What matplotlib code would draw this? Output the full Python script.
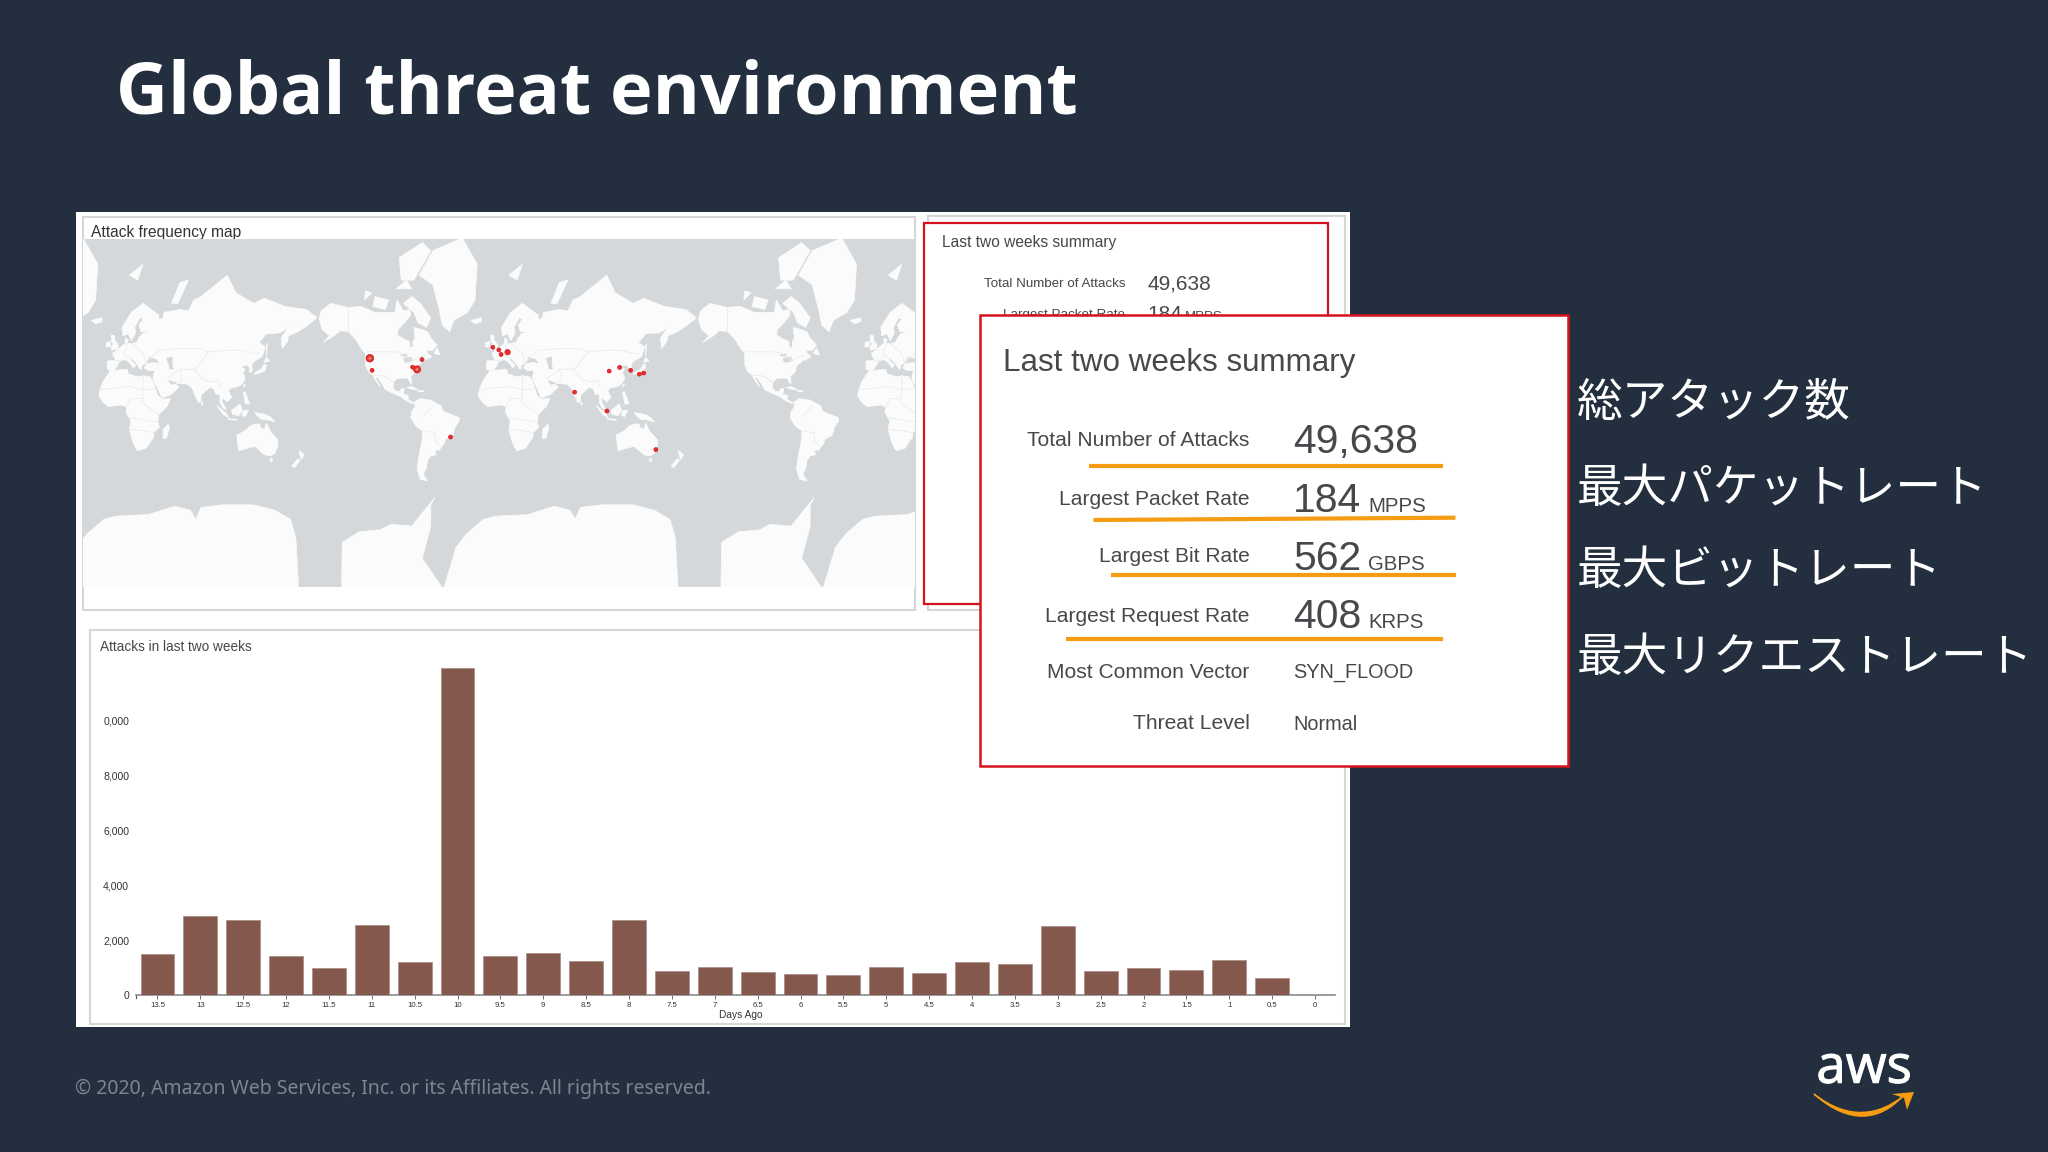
import numpy as np
import matplotlib
matplotlib.use("Agg")
import matplotlib.pyplot as plt
import matplotlib.patheffects as pe
from matplotlib.patches import Rectangle, PathPatch
from matplotlib.path import Path

W, H = 2048, 1152
BG = "#232f3e"
OCEAN = "#d5d8da"
LAND = "#fbfbfb"
BORDER = "#ebebeb"
BAR = "#85584e"
RED = "#d5131f"
ORANGE = "#f59c12"
TXT = "#47474c"
GRID = "#d6d6d6"
SANS = "Liberation Sans"
JP = "Noto Sans CJK JP"

# attacks per half day
days_ago = [13.5, 13, 12.5, 12, 11.5, 11, 10.5, 10, 9.5, 9, 8.5, 8, 7.5, 7,
            6.5, 6, 5.5, 5, 4.5, 4, 3.5, 3, 2.5, 2, 1.5, 1, 0.5, 0]
attacks = [1484, 2895, 2725, 1411, 973, 2543, 1217, 11946, 1411, 1520, 1241, 2749, 876, 1022,
           852, 766, 718, 1034, 791, 1204, 1119, 2506, 876, 973, 900, 1290, 608, 0]
y_ticks = [0, 2000, 4000, 6000, 8000, 10000]
y_labels = ["0", "2,000", "4,000", "6,000", "8,000", "0,000"]

# attack locations on the map
site_lon = [-119.8, -117.7, -75, -79.2, -70.3, -3.1, 2.6, 4.7, 10.9, 74.5, 105.2, 107.3, 117.2, 127.6, 140.1, 135.9, -43.2, 151.6]
site_lat = [44.9, 36.2, 36.9, 38.6, 44.0, 51.8, 50.2, 47.4, 48.8, 17.9, 0.3, 35.6, 38.4, 36.2, 34.1, 33.2, -23.7, -34.1]
site_size = [30, 8, 26, 8, 8, 8, 8, 8, 15, 8, 8, 8, 8, 8, 8, 8, 8, 8]

# summary card rows
summary_labels = ["Total Number of Attacks", "Largest Packet Rate", "Largest Bit Rate",
                  "Largest Request Rate", "Most Common Vector", "Threat Level"]
summary_values = ["49,638", "184", "562", "408", "SYN_FLOOD", "Normal"]
summary_units = ["", "MPPS", "GBPS", "KRPS", "", ""]
jp_labels = ["総アタック数", "最大パケットレート", "最大ビットレート", "最大リクエストレート"]

# coarse coastlines, lon/lat
north_america = [(-168,65.5),(-166,68.5),(-157,71),(-141,69.7),(-128,70),(-115,68),(-108,68),(-96,68),(-94,72),(-88,68.5),(-82,69),(-81,67),(-87,64),(-93,61),(-94,58.5),(-88,56.5),(-82,55),(-82,52),(-79,51.5),(-79,55),(-77,57),(-78,62),(-70,61),(-65,60),(-62,57),(-56,53),(-60,50),(-66,50),(-65,48),(-61,46),(-66,44),(-70,43),(-71,41.5),(-74,40.5),(-76,37),(-76,35),(-81,31.5),(-80,27),(-80.5,25),(-82,27),(-84,30),(-89,30),(-94,29.5),(-97,27),(-98,22),(-95,18.5),(-91,18.5),(-90,21),(-87,21),(-88,16),(-83.5,15),(-83.5,11),(-80,9),(-77.5,8.5),(-80,7.5),(-85,10),(-91,14),(-96,16),(-105,20),(-108,25),(-113,31),(-114.5,30),(-110,23),(-112,25),(-115,29),(-117,32.5),(-121,35),(-124,40),(-124,48),(-128,51),(-133,56),(-140,60),(-148,60.5),(-154,58),(-164,54.5),(-158,58),(-165,61)]
south_america = [(-77.5,8.5),(-72,12),(-62,10.5),(-52,5),(-50,0),(-44,-2.5),(-35,-6),(-35,-9),(-39,-15),(-41,-22),(-48,-25.5),(-49,-29),(-54,-34.5),(-58,-34.5),(-57,-38),(-62,-39),(-65,-42),(-66,-47),(-69,-51),(-65,-55),(-72,-54),(-75,-48),(-73,-38),(-70,-25),(-70,-18),(-76,-14),(-81,-6),(-80,0),(-77,4)]
africa = [(-6,35.8),(10,37),(11,33.5),(20,31),(25,32),(32,31),(34,28),(37,21),(39,15),(43,11.5),(51,12),(48,5),(40,-3),(39,-10),(40.5,-15),(35,-20),(35,-24),(32.5,-27),(28,-33),(20,-35),(18,-33),(15,-27),(12,-17),(13.5,-9),(9,-1),(9.5,4),(5,6),(-4,5),(-8,4.5),(-13,8.5),(-17,14.5),(-16,20),(-13,27),(-10,31)]
eurasia = [(-9,37),(-9,43),(-1,43.5),(-4,48),(2,51),(8,54),(8,57),(11,56),(10,54),(14,54),(19,54.5),(21,57),(24,59),(30,60),(23,60),(21,63),(25,65.5),(22,66),(17,62),(18,59.5),(14,55.5),(11,59),(6,58),(5,62),(14,68),(25,71),(40,67),(40,65),(35,64),(44,66),(45,68),(60,69),(68,68.5),(73,72),(80,73),(105,78),(113,74),(130,71),(140,72.5),(160,70),(180,69),(190,66),(180,62.5),(172,60),(163,58),(162,55),(157,51),(156,57),(163,62),(155,59.5),(142,59),(135,54.5),(141,52),(138,46),(130,42.5),(128,39.5),(129,35.5),(126,34.5),(126,37.5),(125,39.7),(121,40),(118,38.5),(122,37),(120,34.5),(122,30),(119,25),(114,22.5),(108,21.5),(106,19),(109,13),(105,9),(100,13),(100,9),(104,1.5),(101,3),(98,8),(98,16),(94,16),(92,21),(88,22),(80,15),(80,10),(77.5,8),(73,18),(72,21),(67,25),(57,25.5),(56,27),(51,28),(48,30),(50,26),(52,24),(56,25),(59,22.5),(52,16),(43,12.5),(39,21),(35,28),(34.5,31),(36,36),(30,36),(26,38),(28,41),(35,42),(41,41),(37,45),(33,45),(31,46.5),(28,42),(24,40),(23,36.5),(19,41),(14,45),(12.5,44),(18,40),(16,38),(12,42),(8,44),(3,43),(0,39),(-2,36.7),(-5.5,36)]
australia = [(114,-22),(122,-18),(126,-14),(131,-12),(136,-12),(136,-15),(140,-17),(142,-11),(146,-19),(153,-26),(153,-31),(150,-37),(146,-39),(140,-38),(136,-35),(131,-31.5),(124,-33),(116,-35),(115,-31)]
antarctica = [(-147,-86),(-146,-77),(-130,-74.5),(-110,-74),(-100,-72.5),(-80,-73),(-68,-68),(-58,-63),(-62,-66),(-62,-73),(-70,-80),(-50,-84),(-38,-78),(-28,-75),(-12,-71),(0,-70),(30,-69.5),(55,-66.5),(70,-68),(75,-71),(80,-67),(100,-66),(130,-66),(150,-68),(165,-71),(170,-76),(174,-86)]
islands = [
    [(-73,78),(-60,82),(-32,83.5),(-18,80),(-20,72),(-27,68),(-40,65),(-44,60),(-51,63),(-54,69),(-60,76)],
    [(-80,73),(-72,71),(-62,66),(-66,62),(-74,64),(-78,68),(-88,71)],
    [(-90,77),(-78,77),(-62,82),(-70,83),(-92,81)],
    [(-117,70),(-105,69),(-102,72),(-115,73)],
    [(-125,72),(-118,74),(-124,74.5)],
    [(-95,75),(-80,75),(-85,77)],
    [(-59,48),(-53,47),(-56,51.5)],
    [(-24,65),(-14,66),(-14,64.5),(-20,63.5)],
    [(-85,22),(-80,23),(-74,20),(-78,20)],
    [(-74,19.5),(-69,19.5),(-69,18.3),(-74,18.2)],
    [(-5,50),(1,51),(1.5,53),(-2,56),(-2,58),(-5,58.5),(-5,55),(-3,54),(-5,52)],
    [(-10,52),(-6,52),(-6,55),(-10,54.5)],
    [(12,78),(25,80),(20,77)],
    [(52,71),(58,71),(68,77),(60,76.5)],
    [(130,33),(136,34),(141,36),(142,40),(140,41),(137,37),(132,35)],
    [(140,42),(145,43),(142,45.5)],
    [(142,46),(143,54),(142,53)],
    [(120,22),(122,25),(121,25)],
    [(120,18),(122,18),(124,13),(126,7),(122,7),(121,13)],
    [(95,5.5),(104,-2),(106,-6),(101,-3)],
    [(105,-7),(114,-7.5),(114,-8.5),(106,-7.7)],
    [(109,1),(117,7),(119,1),(116,-4),(110,-3)],
    [(120,1),(125,1),(122,-5),(119,-4)],
    [(131,-1),(141,-3),(147,-6),(150,-10),(143,-8),(138,-8),(133,-4)],
    [(145,-41),(148,-41),(147,-43.5)],
    [(173,-35),(178,-38),(175,-41.5),(174,-39)],
    [(172,-41),(174,-42),(169,-47),(166,-46)],
    [(49,-12),(50,-16),(47,-25),(44,-25),(44,-17)],
    [(80,9.5),(82,7),(80.5,6)],
]
lakes = [[(47,45),(53,46),(53,40),(54,37),(50,37),(49,41)],
         [(-92,47),(-85,48),(-84,46),(-88,46)],
         [(-88,45),(-80,46),(-79,43),(-83,42),(-87,42)]]
# a few faint country borders
borders = [
    [(-123,49),(-95,49),(-88,48),(-79,43),(-75,45),(-67,47)],
    [(-141,69.7),(-141,60)],
    [(-117,32.5),(-106,31.7),(-97,26)],
    [(-70,-18),(-58,-20),(-58,-27),(-54,-30)],
    [(-70,-5),(-60,5)],
    [(-16,20),(12,23),(25,20),(37,21)],
    [(25,32),(25,20),(24,8),(30,4),(40,-3)],
    [(9,4),(14,12),(24,12)],
    [(13,-6),(30,-9),(39,-10)],
    [(12,-17),(25,-18),(35,-20)],
    [(28,42),(40,50),(60,51),(80,51),(87,49),(105,50),(118,50),(130,48),(135,48)],
    [(48,30),(60,37),(74,37),(80,30),(88,27),(97,28),(98,22)],
    [(87,49),(80,42),(74,37)],
    [(60,37),(62,28),(57,25.5)],
    [(10,54),(7,47),(14,45)],
    [(-1,43.5),(3,43)],
    [(14,54),(24,49),(28,42)],
]


def merc(lat):
    return np.log(np.tan(np.pi / 4 + np.radians(np.asarray(lat, dtype=float)) / 2))


def px_axes(fig, left, top, right, bottom, **kw):
    # axes placed by pixel box
    return fig.add_axes([left / W, 1 - bottom / H, (right - left) / W, (bottom - top) / H], **kw)


fig = plt.figure(figsize=(W / 100, H / 100), dpi=100, facecolor=BG)

# base layer in pixels
base = px_axes(fig, 0, 0, W, H, zorder=0)
base.set_xlim(0, W)
base.set_ylim(H, 0)
base.axis("off")
base.add_patch(Rectangle((76, 212), 1274, 815, fc="white", ec="none"))
base.add_patch(Rectangle((83, 217), 832, 393, fc="white", ec=GRID, lw=1.5))
base.add_patch(Rectangle((90, 630), 1255, 394, fc="white", ec=GRID, lw=1.5))
base.add_patch(Rectangle((928, 216), 417, 394, fc="white", ec=GRID, lw=1.5))
base.add_patch(Rectangle((923.5, 222.5), 404, 381.5, fc="white", ec=RED, lw=1.6))
base.text(91, 232, "Attack frequency map", family=SANS, fontsize=11.2, color="#333338", va="center")
base.text(100, 647, "Attacks in last two weeks", family=SANS, fontsize=9.8, color=TXT, va="center")
base.text(942.5, 242.5, "Last two weeks summary", family=SANS, fontsize=11.2, color=TXT, va="center")
base.text(1125, 284, summary_labels[0], family=SANS, fontsize=9.6, color=TXT, va="center", ha="right")
base.text(1147.5, 284, summary_values[0], family=SANS, fontsize=15, color=TXT, va="center")
base.text(1125, 315, summary_labels[1], family=SANS, fontsize=9.6, color=TXT, va="center", ha="right")
base.text(1147.5, 315, summary_values[1], family=SANS, fontsize=15, color=TXT, va="center")
base.text(1185, 317, summary_units[1], family=SANS, fontsize=9.5, color=TXT, va="center")

# map
map_ax = px_axes(fig, 83, 239, 915, 587, zorder=1)
map_ax.set_xlim(-392, 397.5)
map_ax.set_ylim(-2.909, 2.853)
map_ax.axis("off")
map_ax.add_patch(Rectangle((0, 0), 1, 1, transform=map_ax.transAxes, fc=OCEAN, ec="none"))
polys = [north_america, south_america, africa, eurasia, australia, antarctica] + islands
for offset in (-360, 0, 360):
    for poly in polys:
        pts = np.array(poly)
        map_ax.fill(pts[:, 0] + offset, merc(pts[:, 1]), color=LAND, lw=0.5)
    for poly in lakes:
        pts = np.array(poly)
        map_ax.fill(pts[:, 0] + offset, merc(pts[:, 1]), color=OCEAN, lw=0)
    for line in borders:
        pts = np.array(line)
        map_ax.plot(pts[:, 0] + offset, merc(pts[:, 1]), color=BORDER, lw=0.6)
sizes = np.array(site_size)
map_ax.scatter(site_lon, merc(site_lat), s=sizes, facecolor="#e2332c", edgecolor=RED, linewidth=0.5, zorder=5)
big = sizes > 20
map_ax.scatter(np.array(site_lon)[big], merc(np.array(site_lat)[big]), s=5, facecolor="#ef7f78", edgecolor="none", zorder=6)

# bars
ax = px_axes(fig, 136, 640, 1335, 995, zorder=1)
ax.patch.set_alpha(0)
ax.bar(days_ago, attacks, width=0.395, color=BAR, edgecolor="#a58a84", linewidth=0.5, zorder=3)
ax.set_xlim(13.75, -0.233)
ax.set_ylim(0, 12956)
ax.set_xticks(days_ago)
ax.set_xticklabels(["%g" % d for d in days_ago], family=SANS, fontsize=5.6, color="#333333")
ax.set_yticks(y_ticks)
ax.set_yticklabels(y_labels, family=SANS, fontsize=7.6, color="#333333")
ax.tick_params(axis="x", length=3, width=0.6, pad=2, color="#555555")
ax.tick_params(axis="y", length=0, pad=5)
for name in ("top", "right", "left"):
    ax.spines[name].set_visible(False)
ax.spines["bottom"].set_color("#8a8a8a")
ax.spines["bottom"].set_linewidth(1.2)
ax.plot([13.75, 13.75], [0, -110], color="#555555", lw=0.8, clip_on=False)
ax.set_xlabel("Days Ago", family=SANS, fontsize=7.3, color="#333333", labelpad=1, x=0.504)

# top layer: card, title, notes, logo
top = px_axes(fig, 0, 0, W, H, zorder=2)
top.set_xlim(0, W)
top.set_ylim(H, 0)
top.axis("off")
top.patch.set_alpha(0)
top.add_patch(Rectangle((979.5, 315), 588, 450.5, fc="white", ec=RED, lw=1.8))
top.text(1003, 363, "Last two weeks summary", family=SANS, fontsize=22.6, color=TXT, va="center")

row_y = [439.5, 498.5, 556, 615, 671.5, 722.5]
val_size = [29.4, 29.4, 29.4, 29.4, 14.3, 14.3]
val_shift = [2.5, 2.5, 2.5, 2.5, 1.5, 1.5]
for i, label in enumerate(summary_labels):
    top.text(1249.5, row_y[i] + 1, label, family=SANS, fontsize=15.1, color=TXT, va="center", ha="right")
    top.text(1293, row_y[i] + val_shift[i], summary_values[i], family=SANS, fontsize=val_size[i], color=TXT, va="center")
    if summary_units[i]:
        top.text(1368, row_y[i] + 8, summary_units[i], family=SANS, fontsize=14.7, color=TXT, va="center")

# hand drawn underlines
underlines = [((1089, 1443), (465.7, 465.7)), ((1093.5, 1455.5), (520, 517.7)),
              ((1111, 1455.5), (575, 575)), ((1066, 1443), (638.5, 638.5))]
for xs, ys in underlines:
    top.plot(xs, ys, color=ORANGE, lw=3, solid_capstyle="butt")

top.text(116, 113, "Global threat environment", family="Open Sans", fontweight="bold", fontsize=51.8, color="white", va="baseline")
jp_y = [403, 489, 571, 658]
for label, y in zip(jp_labels, jp_y):
    top.text(1577, y, label, family=[JP, "DejaVu Sans"], fontsize=32.9, color="white", va="center")
top.text(75, 1089, "© 2020, Amazon Web Services, Inc. or its Affiliates. All rights reserved.",
         family="Noto Sans", fontsize=14.0, color="#7c858f", va="center")

# aws logo
logo = top.text(1864, 1069, "aws", family="Open Sans", fontsize=38, color="white", va="center", ha="center")
logo.set_path_effects([pe.withStroke(linewidth=0.8, foreground="white")])
smile = Path([(1814, 1094), (1850, 1122), (1880, 1114), (1902, 1097),
              (1880, 1120), (1850, 1126), (1814, 1094)],
             [Path.MOVETO, Path.CURVE4, Path.CURVE4, Path.CURVE4, Path.CURVE4, Path.CURVE4, Path.CURVE4])
top.add_patch(PathPatch(smile, fc=ORANGE, ec=ORANGE, lw=1))
top.add_patch(PathPatch(Path([(1892, 1094), (1914, 1092), (1907, 1110), (1904, 1098), (1892, 1094)]), fc=ORANGE, ec="none"))

fig.savefig("out.png", dpi=100, facecolor=BG)
